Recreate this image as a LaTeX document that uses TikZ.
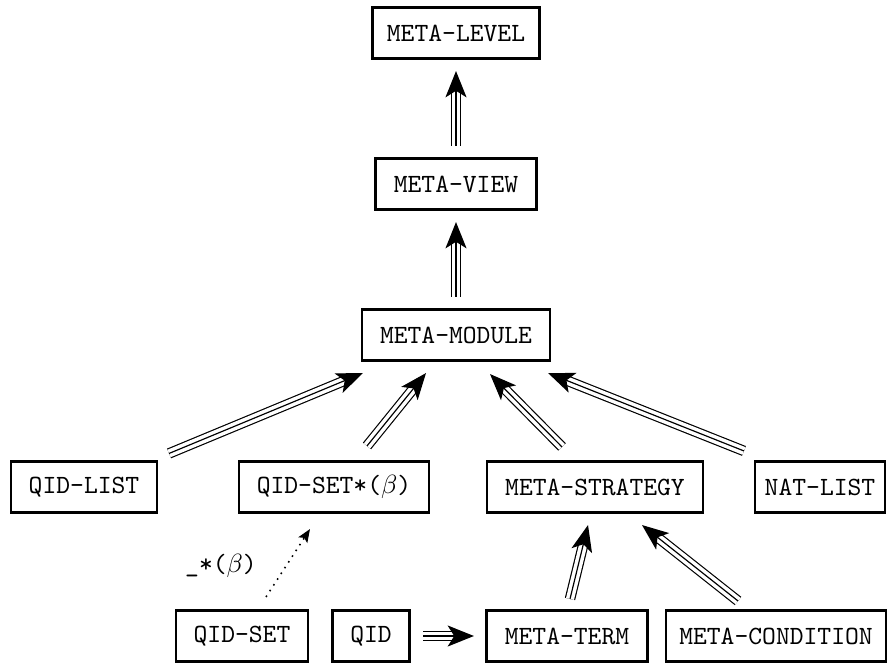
\documentclass[tikz,border=0pt]{standalone}
\usepackage{fontspec}
\usetikzlibrary{arrows.meta,calc}
\begin{document}
\begin{tikzpicture}[x=0.38pt,y=-0.38pt,
  box/.style={draw, line width=0.8pt, font=\ttfamily, minimum height=51*0.38pt, inner sep=0pt},
  trip/.style={
    postaction={draw, line width=4pt, shorten >=7pt},
    postaction={draw, white, line width=3.1pt, shorten >=7pt},
    postaction={draw, line width=0.45pt, -{Stealth[length=10pt,width=8pt,inset=2.5pt]}}},
  dotarrow/.style={draw, line width=0.6pt, dotted, -{Stealth[length=5pt,width=4pt,inset=1pt]}}
]
\useasboundingbox (0,0) rectangle (890,663);
\node[box, minimum width=167*0.38pt] (mlevel) at (456,33) {META-LEVEL};
\node[box, minimum width=161*0.38pt] (mview) at (456,184) {META-VIEW};
\node[box, minimum width=188*0.38pt] (mmodule) at (456,335) {META-MODULE};
\node[box, minimum width=146*0.38pt] (qidlist) at (84,487) {QID-LIST};
\node[box, minimum width=190*0.38pt] (qidsetb) at (334,487) {QID-SET*($\beta$)};
\node[box, minimum width=216*0.38pt] (mstrat) at (595,487) {META-STRATEGY};
\node[box, minimum width=130*0.38pt] (natlist) at (820,487) {NAT-LIST};
\node[box, minimum width=132*0.38pt] (qidset) at (242,636) {QID-SET};
\node[box, minimum width=77*0.38pt] (qid) at (371,636) {QID};
\node[box, minimum width=161*0.38pt] (mterm) at (567,636) {META-TERM};
\node[box, minimum width=220*0.38pt] (mcond) at (776,636) {META-CONDITION};
\node[font=\ttfamily] (lbl) at (221,566) {\_*($\beta$)};

\path[trip] ($(mview.north)+(0,-11.5)$) -- ($(mlevel.south)+(0,11.5)$);
\path[trip] ($(mmodule.north)+(0,-11.5)$) -- ($(mview.south)+(0,11.5)$);
\path[trip] ($(qidlist.north east)+(11,-7)$) -- ($(mmodule.south west)+(2,11.5)$);
\path[trip] ($(qidsetb.north)+(33,-14.5)$) -- ($(mmodule.south)+(-30,11.5)$);
\path[trip] ($(mstrat.north)+(-33,-13.5)$) -- ($(mmodule.south)+(34,12.5)$);
\path[trip] ($(natlist.north west)+(-10,-9.5)$) -- ($(mmodule.south east)+(-3,11.5)$);
\path[trip] ($(mterm.north)+(3,-10.5)$) -- ($(mstrat.south)+(-7,11.5)$);
\path[trip] ($(mcond.north)+(-38,-8.5)$) -- ($(mstrat.south)+(47,11.5)$);
\path[trip] ($(qid.east)+(12.5,0)$) -- ($(mterm.west)+(-11.5,0)$);
\path[dotarrow] ($(qidset.north)+(24,-12.5)$) -- ($(qidsetb.south)+(-24,15.5)$);
\end{tikzpicture}
\end{document}
